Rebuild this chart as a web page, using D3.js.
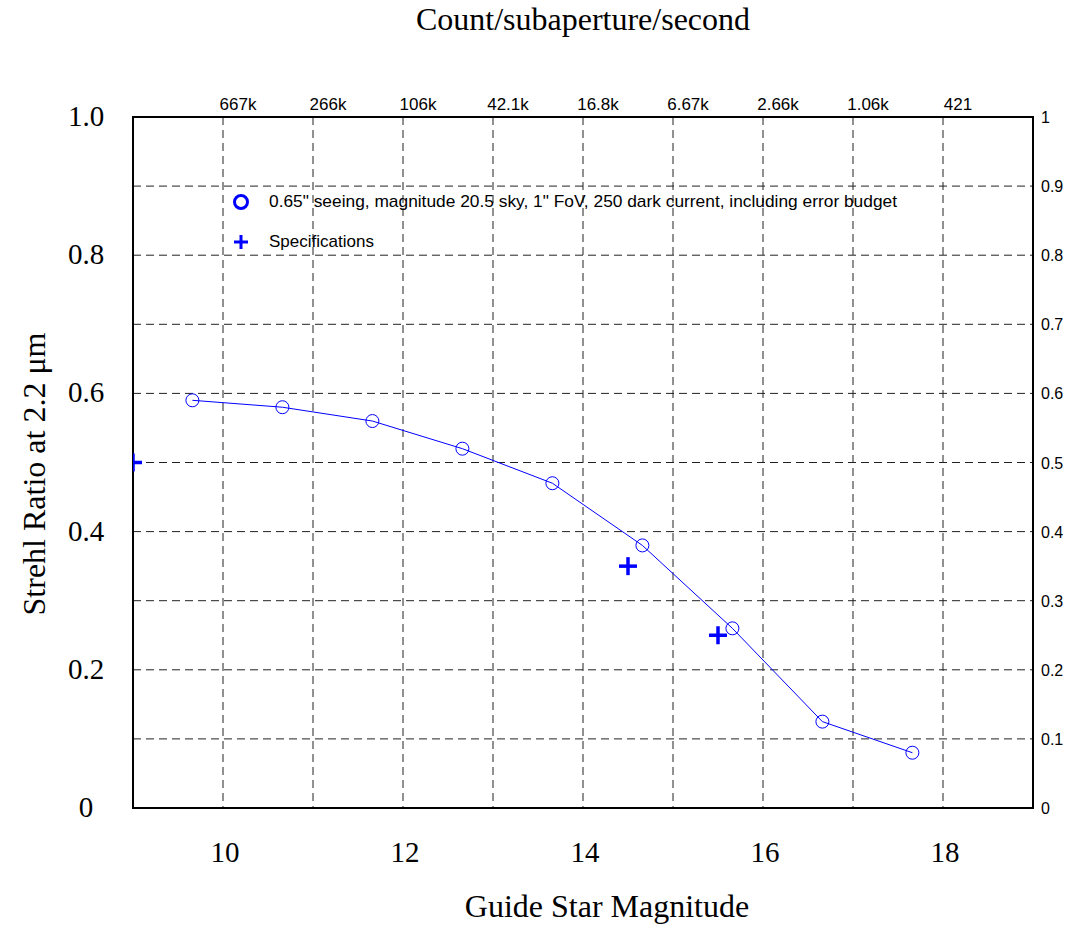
<!DOCTYPE html>
<html>
<head>
<meta charset="utf-8">
<script src="https://cdn.jsdelivr.net/npm/d3@7"></script>
<style>
  body { margin: 0; background: #fff; }
  .serif { font-family: "Liberation Serif", "Times New Roman", serif; }
  .sans { font-family: "Liberation Sans", Arial, sans-serif; }
</style>
</head>
<body>
<div class="chart"></div>
<script>
// -----------------------------------------------------------------------
// Data
// -----------------------------------------------------------------------

// strehl curve
const magnitudes = [9.66, 10.66, 11.66, 12.66, 13.66, 14.66, 15.66, 16.66, 17.66];
const strehl = [0.59, 0.58, 0.56, 0.52, 0.47, 0.38, 0.26, 0.125, 0.08];

// specification points
const specMagnitudes = [9, 14.5, 15.5];
const specStrehl = [0.5, 0.35, 0.25];

// top axis: counts per subaperture per second at each magnitude
const topTickMags = [10, 11, 12, 13, 14, 15, 16, 17, 18];
const topTickLabels = ["667k", "266k", "106k", "42.1k", "16.8k", "6.67k", "2.66k", "1.06k", "421"];

const bottomTicks = [10, 12, 14, 16, 18];
const leftTicks = [0, 0.2, 0.4, 0.6, 0.8, 1.0];
const rightTicks = d3.range(0, 11).map(d => d / 10);

const LEGEND_CURVE = "0.65\" seeing, magnitude 20.5 sky, 1\" FoV, 250 dark current, including error budget";
const LEGEND_SPEC = "Specifications";

const BLUE = "#0000ff";

// -----------------------------------------------------------------------
// Layout
// -----------------------------------------------------------------------

const WIDTH = 1074, HEIGHT = 950;
const PLOT = { left: 133, right: 1033, top: 117, bottom: 808 };

const svg = d3.select(".chart")
  .append("svg")
  .attr("width", WIDTH)
  .attr("height", HEIGHT);

const x = d3.scaleLinear().domain([9, 19]).range([PLOT.left, PLOT.right]);
const y = d3.scaleLinear().domain([0, 1]).range([PLOT.bottom, PLOT.top]);

svg.append("defs").append("clipPath").attr("id", "plot-clip")
  .append("rect")
  .attr("x", PLOT.left).attr("y", PLOT.top)
  .attr("width", PLOT.right - PLOT.left).attr("height", PLOT.bottom - PLOT.top);

// grid lines
const grid = svg.append("g").attr("class", "grid");
grid.selectAll(".vgrid")
  .data(topTickMags)
  .join("line")
  .attr("class", "vgrid")
  .attr("x1", d => x(d)).attr("x2", d => x(d))
  .attr("y1", PLOT.top).attr("y2", PLOT.bottom)
  .attr("stroke", "#222")
  .attr("stroke-width", 1)
  .attr("stroke-dasharray", "8,5");
grid.selectAll(".hgrid")
  .data(rightTicks.filter(d => d > 0 && d < 1))
  .join("line")
  .attr("class", "hgrid")
  .attr("x1", PLOT.left).attr("x2", PLOT.right)
  .attr("y1", d => y(d)).attr("y2", d => y(d))
  .attr("stroke", "#222")
  .attr("stroke-width", 1)
  .attr("stroke-dasharray", "8,5");

// frame
svg.append("rect")
  .attr("x", PLOT.left).attr("y", PLOT.top)
  .attr("width", PLOT.right - PLOT.left).attr("height", PLOT.bottom - PLOT.top)
  .attr("fill", "none")
  .attr("stroke", "#000")
  .attr("stroke-width", 2);

// left axis (serif, large)
svg.append("g")
  .attr("class", "serif")
  .selectAll("text")
  .data(leftTicks)
  .join("text")
  .attr("x", 86)
  .attr("y", d => y(d) + 9)
  .attr("text-anchor", "middle")
  .attr("font-size", 29)
  .text(d => d === 0 ? "0" : d3.format(".1f")(d));

// bottom axis
svg.append("g")
  .attr("class", "serif")
  .selectAll("text")
  .data(bottomTicks)
  .join("text")
  .attr("x", d => x(d) + 2)
  .attr("y", 862)
  .attr("text-anchor", "middle")
  .attr("font-size", 29)
  .text(d => d);

// right axis labels (sans, small)
svg.append("g")
  .attr("class", "sans")
  .selectAll("text")
  .data(rightTicks)
  .join("text")
  .attr("x", PLOT.right + 8)
  .attr("y", d => y(d) + 6)
  .attr("font-size", 16)
  .text(d => d3.format("~g")(d));

// top axis labels
svg.append("g")
  .attr("class", "sans")
  .selectAll("text")
  .data(topTickMags)
  .join("text")
  .attr("x", d => x(d) + 15)
  .attr("y", 110)
  .attr("text-anchor", "middle")
  .attr("font-size", 17)
  .text((d, i) => topTickLabels[i]);

// axis titles
svg.append("text")
  .attr("class", "serif")
  .attr("x", 583).attr("y", 30)
  .attr("text-anchor", "middle")
  .attr("font-size", 32)
  .text("Count/subaperture/second");

svg.append("text")
  .attr("class", "serif")
  .attr("x", 607).attr("y", 917)
  .attr("text-anchor", "middle")
  .attr("font-size", 32)
  .text("Guide Star Magnitude");

svg.append("text")
  .attr("class", "serif")
  .attr("transform", "translate(45, 474) rotate(-90)")
  .attr("text-anchor", "middle")
  .attr("font-size", 32)
  .text("Strehl Ratio at 2.2 μm");

// -----------------------------------------------------------------------
// Marks
// -----------------------------------------------------------------------

const plot = svg.append("g").attr("clip-path", "url(#plot-clip)");

const curve = magnitudes.map((m, i) => [m, strehl[i]]);
plot.append("path")
  .datum(curve)
  .attr("fill", "none")
  .attr("stroke", BLUE)
  .attr("stroke-width", 1)
  .attr("d", d3.line().x(d => x(d[0])).y(d => y(d[1])));

plot.selectAll(".pt")
  .data(curve)
  .join("circle")
  .attr("class", "pt")
  .attr("cx", d => x(d[0]))
  .attr("cy", d => y(d[1]))
  .attr("r", 6.5)
  .attr("fill", "none")
  .attr("stroke", BLUE)
  .attr("stroke-width", 1);

// plus marker drawn as two strokes
function drawPlus(g, cx, cy, s, w) {
  g.append("line")
    .attr("x1", cx - s).attr("x2", cx + s)
    .attr("y1", cy).attr("y2", cy)
    .attr("stroke", BLUE).attr("stroke-width", w);
  g.append("line")
    .attr("x1", cx).attr("x2", cx)
    .attr("y1", cy - s).attr("y2", cy + s)
    .attr("stroke", BLUE).attr("stroke-width", w);
}
specMagnitudes.forEach((m, i) => drawPlus(plot, x(m), y(specStrehl[i]), 9, 3.5));

// -----------------------------------------------------------------------
// Legend
// -----------------------------------------------------------------------

const legend = svg.append("g").attr("class", "sans");
legend.append("circle")
  .attr("cx", 241).attr("cy", 202).attr("r", 6.5)
  .attr("fill", "none").attr("stroke", BLUE).attr("stroke-width", 3);
legend.append("text")
  .attr("x", 269).attr("y", 207)
  .attr("font-size", 17)
  .attr("textLength", 628)
  .attr("lengthAdjust", "spacingAndGlyphs")
  .text(LEGEND_CURVE);
drawPlus(legend, 241, 242, 7, 3);
legend.append("text")
  .attr("x", 269).attr("y", 247)
  .attr("font-size", 17)
  .text(LEGEND_SPEC);
</script>
</body>
</html>
